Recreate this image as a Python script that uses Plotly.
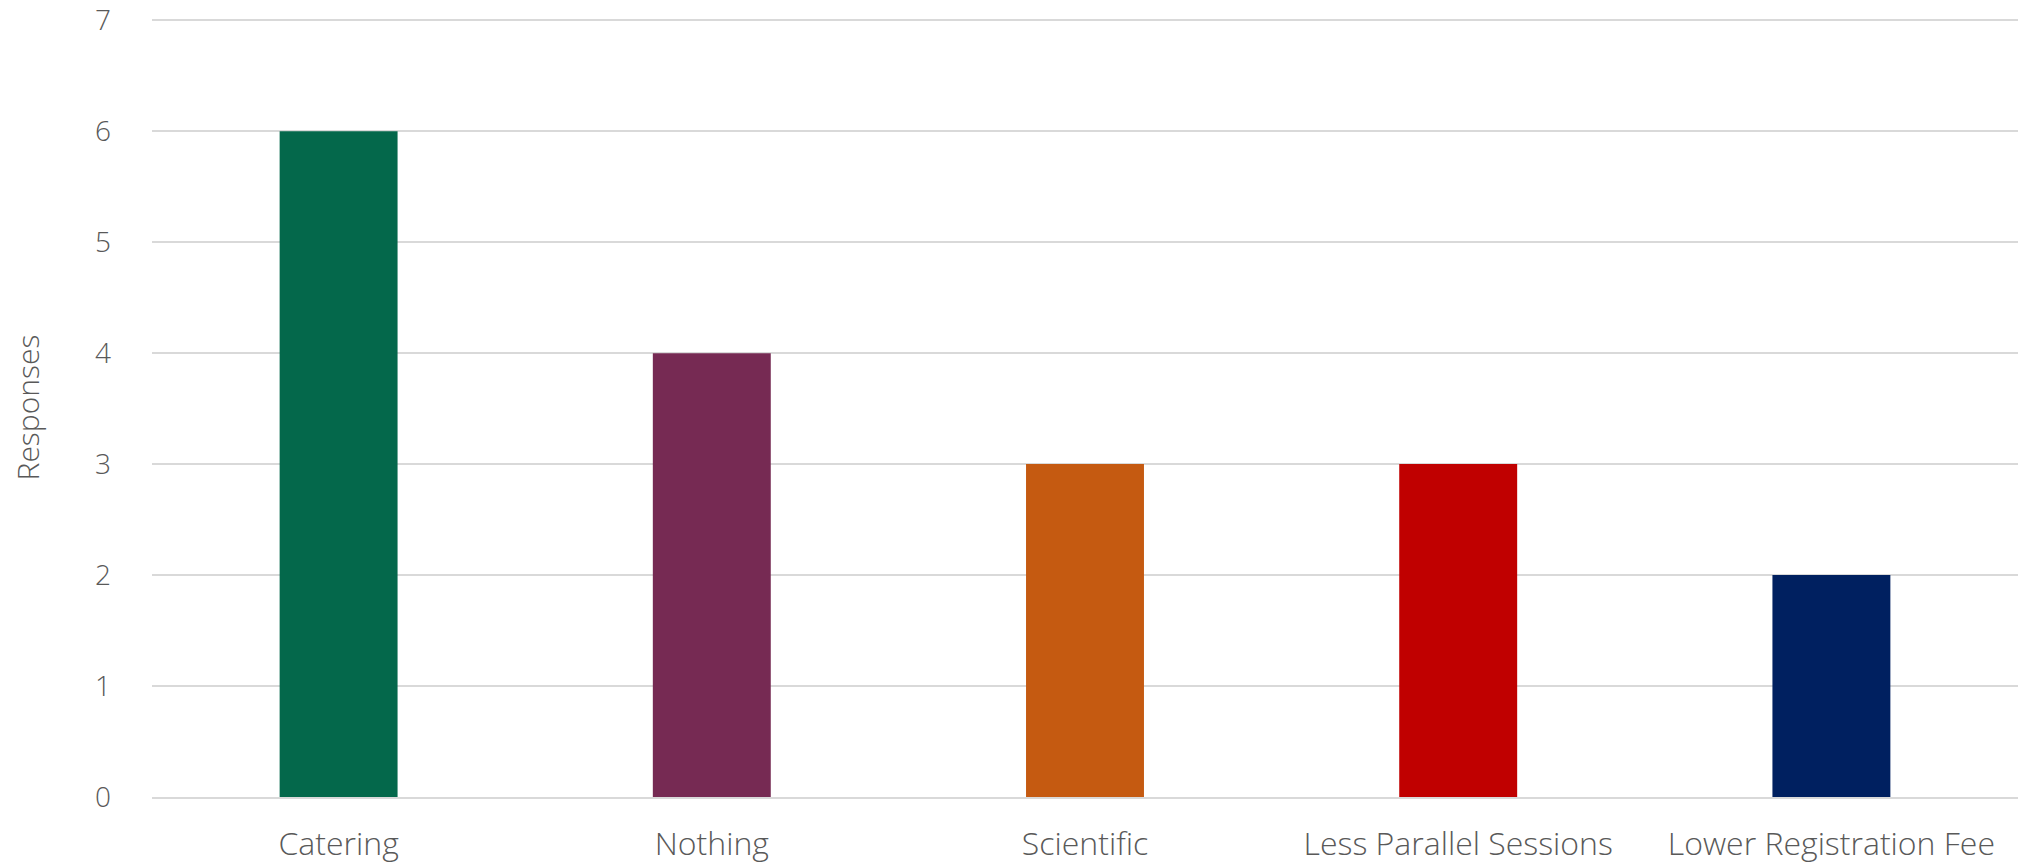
import plotly.graph_objects as go

categories = ["Catering", "Nothing", "Scientific", "Less Parallel Sessions", "Lower Registration Fee"]
responses = [6, 4, 3, 3, 2]
bar_colors = ["#04684B", "#762A53", "#C55A11", "#C00000", "#002060"]
y_ticks = [0, 1, 2, 3, 4, 5, 6, 7]

fig = go.Figure(go.Bar(x=categories, y=responses, marker=dict(color=bar_colors, line=dict(width=0))))

font = "Open Sans"
fig.update_layout(
    width=2029, height=865,
    margin=dict(l=152, r=11, t=18, b=68),
    paper_bgcolor="white", plot_bgcolor="white",
    bargap=0.684,
    showlegend=False,
    font=dict(family=font, color="#595959"),
)
fig.update_xaxes(
    automargin=False,
    showgrid=False, showline=True, linecolor="#d9d9d9", linewidth=1.5,
    tickfont=dict(size=32, color="#595959", family=font, weight=300),
    ticks="", ticklabelstandoff=18,
)
fig.update_yaxes(
    automargin=False,
    range=[0, 7.02], tickvals=y_ticks, showgrid=True, gridcolor="#d9d9d9", gridwidth=1.5,
    zeroline=False, showline=False,
    tickfont=dict(size=28, color="#595959", family=font, weight=300),
    ticklabelstandoff=40, ticklabeloverflow="allow",
    title=dict(text="Responses", font=dict(size=30, color="#595959", family=font, weight=300), standoff=46),
)
fig.write_html("out.html", config={"displayModeBar": False},
               post_script="document.body.style.margin='0';")
